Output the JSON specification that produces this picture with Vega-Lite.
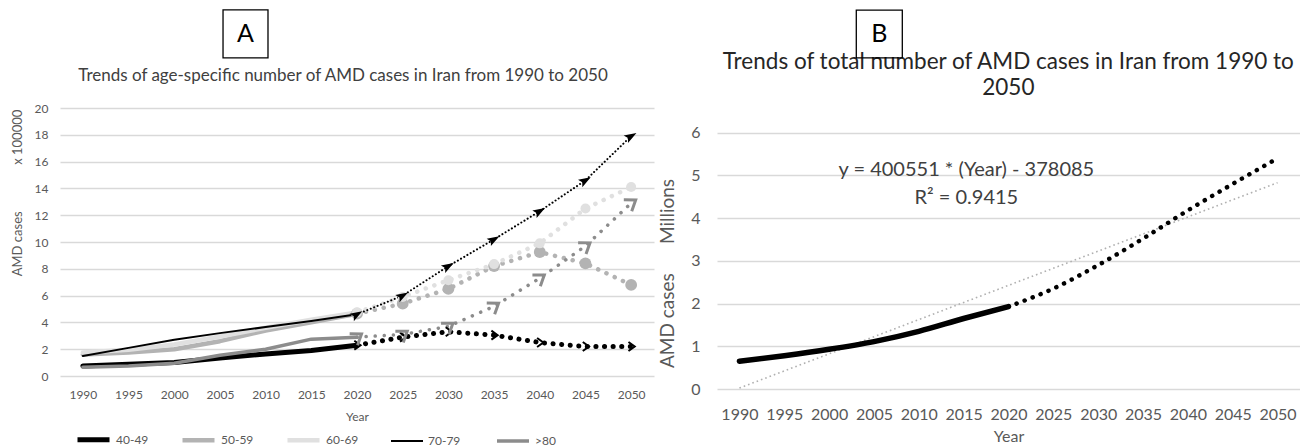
{
  "$schema": "https://vega.github.io/schema/vega-lite/v6.json",
  "background": "white",
  "padding": {"left": 11, "top": 9, "right": 0, "bottom": 0},
  "spacing": 4,
  "resolve": {
    "scale": {"x": "independent", "y": "independent", "color": "independent", "strokeWidth": "independent"},
    "axis": {"x": "independent", "y": "independent"}
  },
  "config": {
    "font": "Lato",
    "view": {"stroke": null},
    "axis": {
      "labelFont": "Lato",
      "titleFont": "Lato",
      "labelColor": "#595959",
      "titleColor": "#595959",
      "titleFontWeight": "normal",
      "domain": false,
      "ticks": false,
      "labelOverlap": false,
      "gridColor": "#d9d9d9",
      "gridWidth": 1.3
    }
  },
  "datasets": {
    "ageGroups": [
      {"group": "40-49", "phase": "observed", "year": 1990, "cases": 0.75},
      {"group": "40-49", "phase": "observed", "year": 1995, "cases": 0.88},
      {"group": "40-49", "phase": "observed", "year": 2000, "cases": 1.0},
      {"group": "40-49", "phase": "observed", "year": 2005, "cases": 1.35},
      {"group": "40-49", "phase": "observed", "year": 2010, "cases": 1.65},
      {"group": "40-49", "phase": "observed", "year": 2015, "cases": 1.9},
      {"group": "40-49", "phase": "observed", "year": 2020, "cases": 2.3},
      {"group": "50-59", "phase": "observed", "year": 1990, "cases": 1.6},
      {"group": "50-59", "phase": "observed", "year": 1995, "cases": 1.75},
      {"group": "50-59", "phase": "observed", "year": 2000, "cases": 2.0},
      {"group": "50-59", "phase": "observed", "year": 2005, "cases": 2.6},
      {"group": "50-59", "phase": "observed", "year": 2010, "cases": 3.4},
      {"group": "50-59", "phase": "observed", "year": 2015, "cases": 4.0},
      {"group": "50-59", "phase": "observed", "year": 2020, "cases": 4.65},
      {"group": "60-69", "phase": "observed", "year": 1990, "cases": 1.75},
      {"group": "60-69", "phase": "observed", "year": 1995, "cases": 1.95},
      {"group": "60-69", "phase": "observed", "year": 2000, "cases": 2.35},
      {"group": "60-69", "phase": "observed", "year": 2005, "cases": 2.95},
      {"group": "60-69", "phase": "observed", "year": 2010, "cases": 3.6},
      {"group": "60-69", "phase": "observed", "year": 2015, "cases": 4.2},
      {"group": "60-69", "phase": "observed", "year": 2020, "cases": 4.75},
      {"group": "70-79", "phase": "observed", "year": 1990, "cases": 1.5},
      {"group": "70-79", "phase": "observed", "year": 1995, "cases": 2.1},
      {"group": "70-79", "phase": "observed", "year": 2000, "cases": 2.7},
      {"group": "70-79", "phase": "observed", "year": 2005, "cases": 3.2},
      {"group": "70-79", "phase": "observed", "year": 2010, "cases": 3.65},
      {"group": "70-79", "phase": "observed", "year": 2015, "cases": 4.1},
      {"group": "70-79", "phase": "observed", "year": 2020, "cases": 4.6},
      {"group": ">80", "phase": "observed", "year": 1990, "cases": 0.65},
      {"group": ">80", "phase": "observed", "year": 1995, "cases": 0.75},
      {"group": ">80", "phase": "observed", "year": 2000, "cases": 0.95},
      {"group": ">80", "phase": "observed", "year": 2005, "cases": 1.55},
      {"group": ">80", "phase": "observed", "year": 2010, "cases": 2.0},
      {"group": ">80", "phase": "observed", "year": 2015, "cases": 2.75},
      {"group": ">80", "phase": "observed", "year": 2020, "cases": 2.9},
      {"group": "40-49", "phase": "projected", "year": 2020, "cases": 2.3},
      {"group": "40-49", "phase": "projected", "year": 2025, "cases": 2.9},
      {"group": "40-49", "phase": "projected", "year": 2030, "cases": 3.3},
      {"group": "40-49", "phase": "projected", "year": 2035, "cases": 3.05},
      {"group": "40-49", "phase": "projected", "year": 2040, "cases": 2.5},
      {"group": "40-49", "phase": "projected", "year": 2045, "cases": 2.2},
      {"group": "40-49", "phase": "projected", "year": 2050, "cases": 2.2},
      {"group": "50-59", "phase": "projected", "year": 2020, "cases": 4.65},
      {"group": "50-59", "phase": "projected", "year": 2025, "cases": 5.4},
      {"group": "50-59", "phase": "projected", "year": 2030, "cases": 6.5},
      {"group": "50-59", "phase": "projected", "year": 2035, "cases": 8.2},
      {"group": "50-59", "phase": "projected", "year": 2040, "cases": 9.25},
      {"group": "50-59", "phase": "projected", "year": 2045, "cases": 8.4},
      {"group": "50-59", "phase": "projected", "year": 2050, "cases": 6.8},
      {"group": "60-69", "phase": "projected", "year": 2020, "cases": 4.75},
      {"group": "60-69", "phase": "projected", "year": 2025, "cases": 5.9},
      {"group": "60-69", "phase": "projected", "year": 2030, "cases": 7.15},
      {"group": "60-69", "phase": "projected", "year": 2035, "cases": 8.35},
      {"group": "60-69", "phase": "projected", "year": 2040, "cases": 9.9},
      {"group": "60-69", "phase": "projected", "year": 2045, "cases": 12.5},
      {"group": "60-69", "phase": "projected", "year": 2050, "cases": 14.1},
      {"group": "70-79", "phase": "projected", "year": 2020, "cases": 4.6},
      {"group": "70-79", "phase": "projected", "year": 2025, "cases": 6.0},
      {"group": "70-79", "phase": "projected", "year": 2030, "cases": 8.2},
      {"group": "70-79", "phase": "projected", "year": 2035, "cases": 10.2},
      {"group": "70-79", "phase": "projected", "year": 2040, "cases": 12.3},
      {"group": "70-79", "phase": "projected", "year": 2045, "cases": 14.6},
      {"group": "70-79", "phase": "projected", "year": 2050, "cases": 17.9},
      {"group": ">80", "phase": "projected", "year": 2020, "cases": 2.9},
      {"group": ">80", "phase": "projected", "year": 2025, "cases": 3.1},
      {"group": ">80", "phase": "projected", "year": 2030, "cases": 3.7},
      {"group": ">80", "phase": "projected", "year": 2035, "cases": 5.2},
      {"group": ">80", "phase": "projected", "year": 2040, "cases": 7.3},
      {"group": ">80", "phase": "projected", "year": 2045, "cases": 9.7},
      {"group": ">80", "phase": "projected", "year": 2050, "cases": 12.9}
    ],
    "total": [
      {"phase": "observed", "year": 1990, "millions": 0.65},
      {"phase": "observed", "year": 1995, "millions": 0.78},
      {"phase": "observed", "year": 2000, "millions": 0.93},
      {"phase": "observed", "year": 2005, "millions": 1.11},
      {"phase": "observed", "year": 2010, "millions": 1.35},
      {"phase": "observed", "year": 2015, "millions": 1.65},
      {"phase": "observed", "year": 2020, "millions": 1.93},
      {"phase": "projected", "year": 2020, "millions": 1.93},
      {"phase": "projected", "year": 2025, "millions": 2.35},
      {"phase": "projected", "year": 2030, "millions": 2.9},
      {"phase": "projected", "year": 2035, "millions": 3.52},
      {"phase": "projected", "year": 2040, "millions": 4.18},
      {"phase": "projected", "year": 2045, "millions": 4.8},
      {"phase": "projected", "year": 2050, "millions": 5.4}
    ],
    "trend": [
      {"year": 1990, "millions": 0.022466},
      {"year": 2050, "millions": 4.829078}
    ]
  },
  "hconcat": [
    {
      "width": 594,
      "height": 268,
      "data": {"name": "ageGroups"},
      "resolve": {"axis": {"x": "independent", "y": "independent"}},
      "layer": [
        {
          "transform": [{"filter": "datum.phase === 'observed'"}],
          "mark": {"type": "line", "strokeCap": "round", "strokeJoin": "round"},
          "encoding": {
            "x": {
              "field": "year", "type": "quantitative",
              "scale": {"domain": [1987.5, 2052.5], "nice": false, "zero": false, "padding": 0},
              "axis": {
                "values": [1990, 1995, 2000, 2005, 2010, 2015, 2020, 2025, 2030, 2035, 2040, 2045, 2050],
                "format": "d", "grid": false, "labelFlush": false,
                "labelFontSize": 12, "labelPadding": 13,
                "title": "Year", "titleFontSize": 12, "titlePadding": 11
              }
            },
            "y": {
              "field": "cases", "type": "quantitative",
              "scale": {"domain": [0, 20], "nice": false, "padding": 0},
              "axis": {
                "values": [0, 2, 4, 6, 8, 10, 12, 14, 16, 18, 20],
                "grid": true, "labelFontSize": 12, "labelPadding": 12,
                "title": "AMD cases\u00a0\u00a0\u00a0\u00a0\u00a0\u00a0\u00a0\u00a0\u00a0\u00a0\u00a0\u00a0\u00a0\u00a0x 100000",
                "titleFontSize": 13, "titleY": 84.5, "titlePadding": 10
              }
            },
            "color": {
              "field": "group", "type": "nominal",
              "scale": {
                "domain": ["40-49", "50-59", "60-69", "70-79", ">80"],
                "range": ["#000000", "#b3b3b3", "#e0e0e0", "#000000", "#8c8c8c"]
              },
              "legend": {
                "title": null, "orient": "none", "legendX": 15, "legendY": 313,
                "direction": "horizontal", "symbolType": "stroke", "symbolSize": 1024,
                "symbolStrokeWidth": 3.5,
                "labelFontSize": 12, "labelColor": "#595959", "labelOffset": 4,
                "columnPadding": 24, "gridAlign": "all"
              }
            },
            "strokeWidth": {
              "field": "group", "type": "nominal",
              "scale": {
                "type": "ordinal",
                "domain": ["40-49", "50-59", "60-69", "70-79", ">80"],
                "range": [5, 4.5, 4.5, 2, 3.5]
              },
              "legend": null
            }
          }
        },
        {
          "transform": [{"filter": "datum.phase === 'projected' && datum.group === '40-49'"}],
          "mark": {"type": "line", "color": "#000000", "strokeWidth": 5, "strokeCap": "round", "strokeDash": [0.1, 8.5]},
          "encoding": {
            "x": {"field": "year", "type": "quantitative", "axis": null},
            "y": {"field": "cases", "type": "quantitative", "axis": null}
          }
        },
        {
          "transform": [{"filter": "datum.phase === 'projected' && datum.group === '50-59'"}],
          "mark": {"type": "line", "color": "#b3b3b3", "strokeWidth": 4.5, "strokeCap": "round", "strokeDash": [0.1, 9]},
          "encoding": {
            "x": {"field": "year", "type": "quantitative", "axis": null},
            "y": {"field": "cases", "type": "quantitative", "axis": null}
          }
        },
        {
          "transform": [{"filter": "datum.phase === 'projected' && datum.group === '60-69'"}],
          "mark": {"type": "line", "color": "#e0e0e0", "strokeWidth": 4.5, "strokeCap": "round", "strokeDash": [0.1, 9]},
          "encoding": {
            "x": {"field": "year", "type": "quantitative", "axis": null},
            "y": {"field": "cases", "type": "quantitative", "axis": null}
          }
        },
        {
          "transform": [{"filter": "datum.phase === 'projected' && datum.group === '70-79'"}],
          "mark": {"type": "line", "color": "#000000", "strokeWidth": 2, "strokeCap": "round", "strokeDash": [0.1, 3.6]},
          "encoding": {
            "x": {"field": "year", "type": "quantitative", "axis": null},
            "y": {"field": "cases", "type": "quantitative", "axis": null}
          }
        },
        {
          "transform": [{"filter": "datum.phase === 'projected' && datum.group === '>80'"}],
          "mark": {"type": "line", "color": "#8c8c8c", "strokeWidth": 3.5, "strokeCap": "round", "strokeDash": [0.1, 9]},
          "encoding": {
            "x": {"field": "year", "type": "quantitative", "axis": null},
            "y": {"field": "cases", "type": "quantitative", "axis": null}
          }
        },
        {
          "transform": [{"filter": "datum.phase === 'projected' && datum.group === '50-59'"}],
          "mark": {"type": "point", "shape": "circle", "filled": true, "opacity": 1, "size": 140, "color": "#b3b3b3"},
          "encoding": {
            "x": {"field": "year", "type": "quantitative", "axis": null},
            "y": {"field": "cases", "type": "quantitative", "axis": null}
          }
        },
        {
          "transform": [{"filter": "datum.phase === 'projected' && datum.group === '60-69'"}],
          "mark": {"type": "point", "shape": "circle", "filled": true, "opacity": 1, "size": 100, "color": "#e0e0e0"},
          "encoding": {
            "x": {"field": "year", "type": "quantitative", "axis": null},
            "y": {"field": "cases", "type": "quantitative", "axis": null}
          }
        },
        {
          "transform": [{"filter": "datum.phase === 'projected' && datum.group === '40-49'"}],
          "mark": {"type": "point", "shape": "M-0.6,-1L0.8,0L-0.6,1", "filled": false, "opacity": 1, "size": 80, "strokeWidth": 2, "color": "#000000"},
          "encoding": {
            "x": {"field": "year", "type": "quantitative", "axis": null},
            "y": {"field": "cases", "type": "quantitative", "axis": null}
          }
        },
        {
          "transform": [{"filter": "datum.phase === 'projected' && datum.group === '70-79'"}],
          "mark": {"type": "point", "shape": "M-1,-0.7L1,0L-1,0.7L-0.6,0Z", "filled": true, "opacity": 1, "size": 150, "angle": -30, "color": "#000000"},
          "encoding": {
            "x": {"field": "year", "type": "quantitative", "axis": null},
            "y": {"field": "cases", "type": "quantitative", "axis": null}
          }
        },
        {
          "transform": [{"filter": "datum.phase === 'projected' && datum.group === '>80'"}],
          "mark": {"type": "point", "shape": "M-0.6,-1L0.8,0L-0.6,1", "filled": false, "opacity": 1, "size": 190, "strokeWidth": 3, "angle": -35, "color": "#8c8c8c"},
          "encoding": {
            "x": {"field": "year", "type": "quantitative", "axis": null},
            "y": {"field": "cases", "type": "quantitative", "axis": null}
          }
        },
        {
          "data": {"values": [{"heading": "Trends of age-specific number of AMD cases in Iran from 1990 to 2050"}]},
          "mark": {"type": "text", "fontSize": 17, "color": "#404040", "align": "center", "baseline": "middle"},
          "encoding": {
            "x": {"datum": 2018.47, "type": "quantitative", "axis": null},
            "y": {"datum": 22.39, "type": "quantitative", "axis": null},
            "text": {"field": "heading"}
          }
        },
        {
          "data": {"values": [{"panel": "A"}]},
          "mark": {"type": "rect", "fillOpacity": 0, "stroke": "#000000", "strokeWidth": 1.3},
          "encoding": {
            "x": {"datum": 2005.34, "type": "quantitative", "axis": null},
            "x2": {"datum": 2010.26},
            "y": {"datum": 27.33, "type": "quantitative", "axis": null},
            "y2": {"datum": 23.74}
          }
        },
        {
          "data": {"values": [{"panel": "A"}]},
          "mark": {"type": "text", "fontSize": 25, "color": "#000000", "baseline": "middle", "align": "center"},
          "encoding": {
            "x": {"datum": 2007.8, "type": "quantitative", "axis": null},
            "y": {"datum": 25.5, "type": "quantitative", "axis": null},
            "text": {"field": "panel"}
          }
        }
      ]
    },
    {
      "width": 583,
      "height": 281,
      "resolve": {"axis": {"x": "independent", "y": "independent"}},
      "layer": [
        {
          "data": {"name": "trend"},
          "mark": {"type": "line", "color": "#b0b0b0", "strokeWidth": 1.6, "strokeDash": [1.6, 3]},
          "encoding": {
            "x": {
              "field": "year", "type": "quantitative",
              "scale": {"domain": [1987.5, 2052.5], "nice": false, "zero": false, "padding": 0},
              "axis": {
                "values": [1990, 1995, 2000, 2005, 2010, 2015, 2020, 2025, 2030, 2035, 2040, 2045, 2050],
                "format": "d", "grid": false, "labelFlush": false,
                "labelFontSize": 16, "labelPadding": 17,
                "title": "Year", "titleFontSize": 16, "titlePadding": 6
              }
            },
            "y": {
              "field": "millions", "type": "quantitative",
              "scale": {"domain": [0, 6.577], "nice": false, "padding": 0},
              "axis": {
                "values": [0, 1, 2, 3, 4, 5, 6],
                "grid": true, "labelFontSize": 16, "labelPadding": 17,
                "title": "AMD cases\u00a0\u00a0\u00a0\u00a0\u00a0\u00a0Millions",
                "titleFontSize": 19, "titleY": 165, "titlePadding": 13
              }
            }
          }
        },
        {
          "data": {"name": "total"},
          "transform": [{"filter": "datum.phase === 'observed'"}],
          "mark": {"type": "line", "color": "#000000", "strokeWidth": 5.5, "strokeCap": "round", "interpolate": "monotone"},
          "encoding": {
            "x": {"field": "year", "type": "quantitative", "axis": null},
            "y": {"field": "millions", "type": "quantitative", "axis": null}
          }
        },
        {
          "data": {"name": "total"},
          "transform": [{"filter": "datum.phase === 'projected'"}],
          "mark": {"type": "line", "color": "#000000", "strokeWidth": 4.5, "strokeCap": "round", "strokeDash": [0.1, 8.5], "interpolate": "monotone"},
          "encoding": {
            "x": {"field": "year", "type": "quantitative", "axis": null},
            "y": {"field": "millions", "type": "quantitative", "axis": null}
          }
        },
        {
          "data": {"values": [{"equation": "y = 400551 * (Year) - 378085\nR² = 0.9415"}]},
          "mark": {"type": "text", "fontSize": 20, "lineHeight": 28, "lineBreak": "\n", "color": "#404040", "align": "center", "baseline": "middle"},
          "encoding": {
            "x": {"datum": 2015.3, "type": "quantitative", "axis": null},
            "y": {"datum": 5.133, "type": "quantitative", "axis": null},
            "text": {"field": "equation"}
          }
        },
        {
          "data": {"values": [{"heading": "Trends of total number of AMD cases in Iran from 1990 to\n2050"}]},
          "mark": {"type": "text", "fontSize": 22.5, "lineHeight": 26, "lineBreak": "\n", "color": "#262626", "align": "center", "baseline": "middle"},
          "encoding": {
            "x": {"datum": 2019.98, "type": "quantitative", "axis": null},
            "y": {"datum": 7.66, "type": "quantitative", "axis": null},
            "text": {"field": "heading"}
          }
        },
        {
          "data": {"values": [{"panel": "B"}]},
          "mark": {"type": "rect", "fillOpacity": 0, "stroke": "#000000", "strokeWidth": 1.3},
          "encoding": {
            "x": {"datum": 2003.03, "type": "quantitative", "axis": null},
            "x2": {"datum": 2008.16},
            "y": {"datum": 8.87, "type": "quantitative", "axis": null},
            "y2": {"datum": 7.75}
          }
        },
        {
          "data": {"values": [{"panel": "B"}]},
          "mark": {"type": "text", "fontSize": 25, "color": "#000000", "baseline": "middle", "align": "center"},
          "encoding": {
            "x": {"datum": 2005.6, "type": "quantitative", "axis": null},
            "y": {"datum": 8.31, "type": "quantitative", "axis": null},
            "text": {"field": "panel"}
          }
        }
      ]
    }
  ]
}
